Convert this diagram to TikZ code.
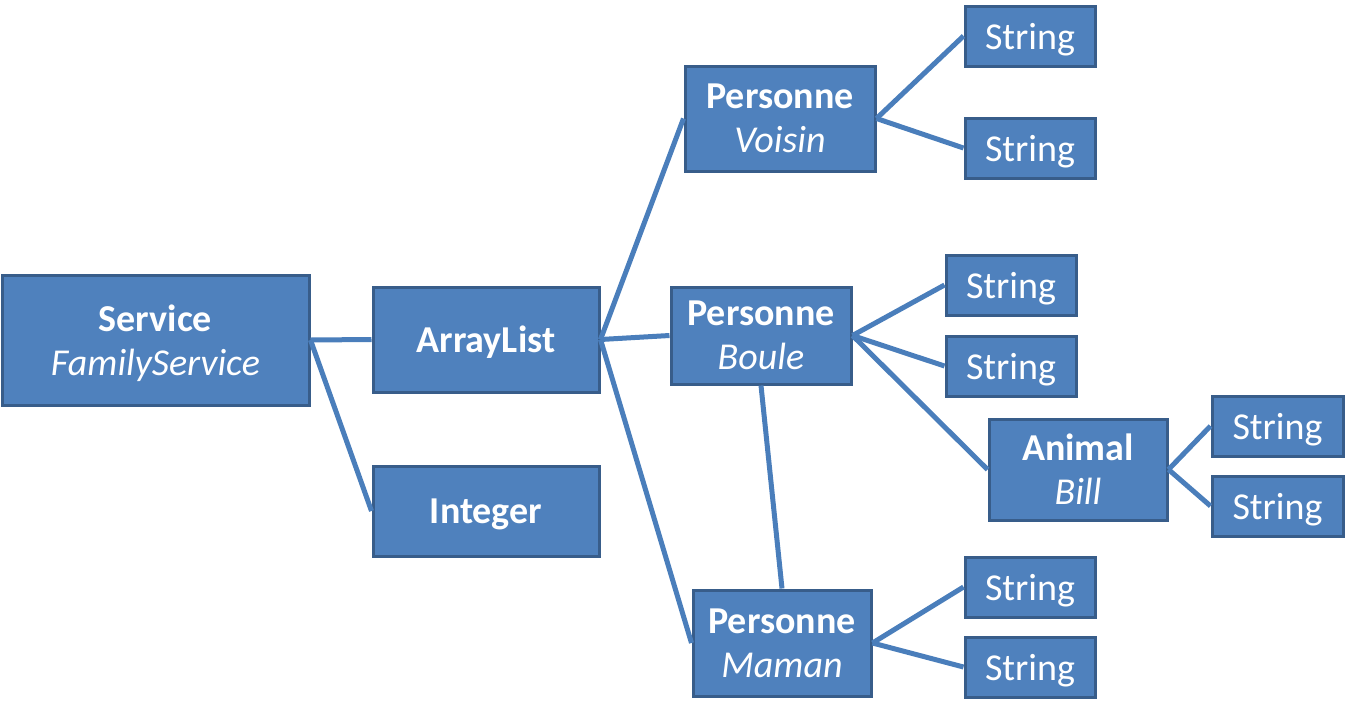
\documentclass[tikz,border=0pt]{standalone}
\usepackage{fontspec}
\setmainfont{Carlito}
\definecolor{boxfill}{HTML}{4F81BD}
\definecolor{boxline}{HTML}{385D8A}
\definecolor{conn}{HTML}{4A7EBB}
\begin{document}
\begin{tikzpicture}[x=1pt,y=-1pt,
  box/.style={draw=boxline,fill=boxfill,line width=3pt,inner sep=0pt,text=white,align=center,
    text depth=0pt,font=\fontsize{38}{44}\selectfont},
  conn/.style={draw=conn,line width=5pt}]
\useasboundingbox (0,0) rectangle (1347,713);
\node[box,minimum width=307pt,minimum height=130pt] (service) at (155.5,340) {\textbf{Service}\\\textit{FamilyService}};
\node[box,minimum width=226pt,minimum height=105pt] (array) at (486,339.5) {\textbf{ArrayList}};
\node[box,minimum width=226pt,minimum height=90pt] (integer) at (486,511) {\textbf{Integer}};
\node[box,minimum width=190pt,minimum height=105pt] (voisin) at (780,118.5) {\textbf{Personne}\\\textit{Voisin}};
\node[box,minimum width=180pt,minimum height=97pt] (boule) at (761,335.5) {\textbf{Personne}\\\textit{Boule}};
\node[box,minimum width=178pt,minimum height=106pt] (maman) at (782,643) {\textbf{Personne}\\\textit{Maman}};
\node[box,minimum width=178pt,minimum height=101pt] (animal) at (1078,469.5) {\textbf{Animal}\\\textit{Bill}};
\node[box,minimum width=130pt,minimum height=60pt] (s1) at (1030,36) {String};
\node[box,minimum width=130pt,minimum height=60pt] (s2) at (1030,148) {String};
\node[box,minimum width=130pt,minimum height=60pt] (s3) at (1011,285) {String};
\node[box,minimum width=130pt,minimum height=60pt] (s4) at (1011,366) {String};
\node[box,minimum width=131pt,minimum height=60pt] (s5) at (1277.5,426) {String};
\node[box,minimum width=131pt,minimum height=60pt] (s6) at (1277.5,506) {String};
\node[box,minimum width=130pt,minimum height=60pt] (s7) at (1030,587) {String};
\node[box,minimum width=130pt,minimum height=60pt] (s8) at (1030,667) {String};
\draw[conn] (service.east) -- (array.west);
\draw[conn] (service.east) -- (integer.west);
\draw[conn] (array.east) -- (voisin.west);
\draw[conn] (array.east) -- (boule.west);
\draw[conn] (array.east) -- (maman.west);
\draw[conn] (boule.south) -- (maman.north);
\draw[conn] (voisin.east) -- (s1.west);
\draw[conn] (voisin.east) -- (s2.west);
\draw[conn] (boule.east) -- (s3.west);
\draw[conn] (boule.east) -- (s4.west);
\draw[conn] (boule.east) -- (animal.west);
\draw[conn] (animal.east) -- (s5.west);
\draw[conn] (animal.east) -- (s6.west);
\draw[conn] (maman.east) -- (s7.west);
\draw[conn] (maman.east) -- (s8.west);
\end{tikzpicture}
\end{document}
